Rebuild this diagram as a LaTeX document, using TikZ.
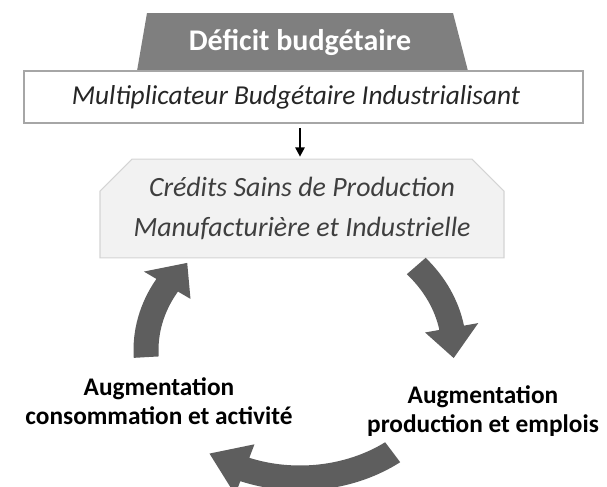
\documentclass[tikz,border=0pt]{standalone}
\usepackage{fontspec}
\setmainfont{Carlito}
\usetikzlibrary{calc,shapes.misc,arrows.meta}
\definecolor{trapgrey}{HTML}{7F7F7F}
\definecolor{boxline}{HTML}{A6A6A6}
\definecolor{credfill}{HTML}{F2F2F2}
\definecolor{credline}{HTML}{D4D4D4}
\definecolor{credtext}{HTML}{3F3F3F}
\definecolor{arrowgrey}{HTML}{5E5E5E}
\newcommand{\cycarrow}[3]{%
  \fill[arrowgrey] ($(C)+(#1:166.5 and 140.5)$)
    arc[start angle=#1, end angle=#2, x radius=166.5, y radius=140.5]
    -- ($(C)+(#2:181 and 155)$) -- ($(C)+(#3:154 and 128)$)
    -- ($(C)+(#2:127 and 101)$) -- ($(C)+(#2:141.5 and 115.5)$)
    arc[start angle=#2, end angle=#1, x radius=141.5, y radius=115.5] -- cycle;}
\begin{document}
\begin{tikzpicture}[x=0.75pt,y=-0.75pt,
  lbl/.style={font=\bfseries\fontsize{19}{20}\selectfont, align=center, text=black, inner sep=0pt}]
\useasboundingbox (0,0) rectangle (607,486);
\clip (0,0) rectangle (607,486);
\coordinate (C) at (300,350);
% title trapezoid
\fill[trapgrey] (147,13) -- (453,13) -- (468,71) -- (137,71) -- cycle;
\node[font=\bfseries\fontsize{22.5}{26}\selectfont, text=white, inner sep=0pt] (deficit) at (300,42) {Déficit budgétaire};
% white box
\node[draw=boxline, line width=1.5pt, fill=white, minimum width=419pt, minimum height=39pt, inner sep=0pt] (mult) at (303.5,97) {};
\node[font=\itshape\fontsize{20.5}{24}\selectfont, text=black!85, inner sep=0pt] (multtext) at (296,97) {Multiplicateur Budgétaire Industrialisant};
% credits box
\node[chamfered rectangle, chamfered rectangle corners={north east,north west}, chamfered rectangle xsep=12pt,
  chamfered rectangle ysep=12pt,
  draw=credline, line width=0.8pt, fill=credfill, minimum width=303pt, minimum height=74pt, inner sep=0pt,
  font=\itshape\fontsize{20.9}{30}\selectfont, text=credtext, align=center] (cred) at (302,208.5)
  {Crédits Sains de Production\\Manufacturière et Industrielle};
\coordinate (arrtop) at (300,123);
\draw[-{Triangle[length=7pt,width=7pt]}, line width=1.5pt, shorten <=4pt, shorten >=1.5pt] (arrtop) -- (arrtop |- cred.north);
% cycle arrows
\cycarrow{-41}{-10}{3.6}
\cycarrow{53}{111}{126}
\cycarrow{176.8}{210.4}{222.9}
% labels
\node[lbl] (consum) at (159,401) {Augmentation\\[2pt]consommation et activité};
\node[lbl] (prod) at (483,411) {Augmentation\\[2pt]production et emplois};
\end{tikzpicture}
\end{document}
